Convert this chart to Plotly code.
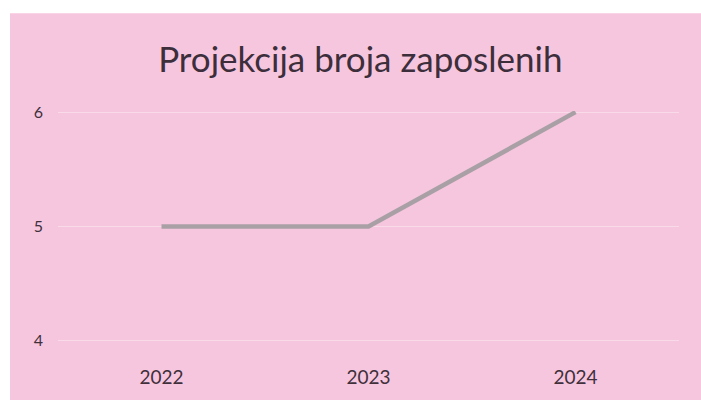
import plotly.graph_objects as go

years = ["2022", "2023", "2024"]
employees = [5, 5, 6]
title_text = "Projekcija broja zaposlenih"

PINK = "#f6c6de"

fig = go.Figure()
fig.add_trace(go.Scatter(
    x=years, y=employees, mode="lines",
    line=dict(color="#a9a0a6", width=4.5),
    hoverinfo="skip", showlegend=False,
))

fig.update_layout(
    width=701, height=400,
    margin=dict(l=58, r=22, t=111, b=55),
    paper_bgcolor=PINK,
    plot_bgcolor="rgba(0,0,0,0)",
    title=dict(text=title_text, x=0.514, xanchor="center", y=0.85, yanchor="middle",
               xref="container", yref="container",
               font=dict(family="Lato", size=35, color="#3c2e3b")),
    font=dict(family="Lato", color="#3f303c"),
    shapes=[
        dict(type="rect", xref="paper", yref="paper",
             x0=-0.2, x1=-0.0773, y0=-0.5, y1=1.6,
             fillcolor="white", line=dict(width=0), layer="below"),
        dict(type="rect", xref="paper", yref="paper",
             x0=-0.2, x1=1.2, y0=1.423, y1=1.6,
             fillcolor="white", line=dict(width=0), layer="below"),
    ],
)
fig.update_xaxes(type="category", range=[-0.5, 2.5], showgrid=False, zeroline=False,
                 showline=False, ticks="", ticklabelstandoff=22,
                 tickfont=dict(size=19, color="#3f303c"))
fig.update_yaxes(range=[3.99, 6.01], dtick=1, showgrid=True, gridcolor="rgba(255,255,255,0.35)",
                 gridwidth=1, zeroline=False, showline=False, ticks="",
                 ticklabelstandoff=14, tickfont=dict(size=16, color="#3f303c"))

fig.write_html(
    "out.html",
    config={"displayModeBar": False},
    post_script="document.body.style.margin='0';document.documentElement.style.overflow='hidden';",
)
